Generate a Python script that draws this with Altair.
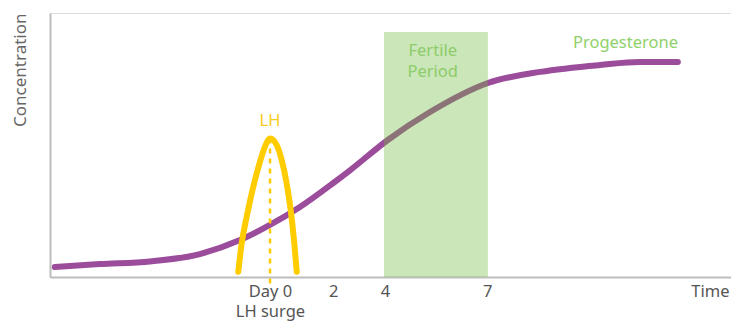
import altair as alt
import pandas as pd

# Progesterone curve (arbitrary time units 0-100, concentration 0-100)
prog_x = [0.7, 7.3, 14.7, 22.0, 27.9, 32.3, 36.7, 41.6, 44.1, 49.6, 55.8, 64.3, 72.0, 80.8, 86.6, 92.2]
prog_y = [3.8, 4.9, 5.9, 8.7, 14.0, 19.7, 26.5, 35.6, 40.5, 51.9, 62.5, 73.5, 77.7, 80.3, 81.4, 81.4]

# LH surge curve
lh_x = [27.65, 28.15, 28.88, 29.85, 30.84, 31.57, 32.31, 33.29, 34.02, 34.75, 35.34, 35.83, 36.23]
lh_y = [2.0, 12.8, 22.8, 34.2, 43.7, 49.4, 52.5, 50.0, 44.3, 35.5, 25.4, 14.0, 2.0]

surge_day = [32.31]
surge_top = [52.5]
surge_bottom = [-3.8]

fertile_start = [49.05]
fertile_end = [64.3]
fertile_top = [92.8]

tick_values = [32.3, 41.6, 49.2, 64.2, 96.9]
tick_labels = [["Day 0", "LH surge"], "2", "4", "7", "Time"]

ann_text = ["Fertile", "Period", "Progesterone", "LH"]
ann_x = [56.2, 56.2, 84.5, 32.3]
ann_y = [85.6, 77.7, 88.75, 59.1]
ann_color = ["#8dcc6a", "#8dcc6a", "#8fd06a", "#f8cc1b"]

PURPLE = "#9b4c9b"
YELLOW = "#ffcc00"
FONT = "Noto Sans"

prog_df = pd.DataFrame({"t": prog_x, "c": prog_y, "i": range(len(prog_x))})
lh_df = pd.DataFrame({"t": lh_x, "c": lh_y, "i": range(len(lh_x))})
rule_df = pd.DataFrame({"t": surge_day, "c": surge_top, "c2": surge_bottom})
rect_df = pd.DataFrame({"t": fertile_start, "t2": fertile_end, "c": [0], "c2": fertile_top})
ann_df = pd.DataFrame({"text": ann_text, "t": ann_x, "c": ann_y, "col": ann_color})

# build label expression
def js(v):
    if isinstance(v, list):
        return "[" + ",".join("'" + s + "'" for s in v) + "]"
    return "'" + v + "'"

expr = js(tick_labels[-1])
for k in range(len(tick_values) - 2, -1, -1):
    mid = (tick_values[k] + tick_values[k + 1]) / 2
    expr = f"datum.value < {mid} ? {js(tick_labels[k])} : ({expr})"

xscale = alt.Scale(domain=[0, 100], nice=False, zero=False)
yscale = alt.Scale(domain=[0, 100], nice=False, zero=False)

xaxis = alt.Axis(
    values=tick_values, labelExpr=expr, title=None, ticks=False, grid=False,
    domainColor="#bdbdbd", domainWidth=2, labelFontSize=16.5, labelColor="#555555",
    labelFont=FONT, labelPadding=6, labelLineHeight=20, labelFlush=False,
    labelOverlap=False, labelBound=False,
)
yaxis = alt.Axis(
    title="Concentration", labels=False, ticks=False, grid=False,
    domainColor="#bdbdbd", domainWidth=2, titleFontSize=17, titleFont=FONT,
    titleColor="#666666", titleFontWeight="normal", titleAnchor="end",
    titlePadding=21,
)

prog = alt.Chart(prog_df).mark_line(
    color=PURPLE, strokeWidth=6, strokeCap="round", interpolate="monotone"
).encode(
    x=alt.X("t:Q", scale=xscale, axis=xaxis),
    y=alt.Y("c:Q", scale=yscale, axis=yaxis),
    order="i:Q",
)

rect = alt.Chart(rect_df).mark_rect(color="#6fba3a", opacity=0.36).encode(
    x="t:Q", x2="t2:Q", y="c:Q", y2="c2:Q"
)

lh = alt.Chart(lh_df).mark_line(
    color=YELLOW, strokeWidth=6, strokeCap="round", interpolate="monotone"
).encode(x="t:Q", y="c:Q", order="i:Q")

rule = alt.Chart(rule_df).mark_rule(
    color=YELLOW, strokeWidth=2.5, strokeDash=[5, 5]
).encode(x="t:Q", y="c:Q", y2="c2:Q")

ann = alt.Chart(ann_df).mark_text(
    fontSize=16.5, font=FONT, align="center", baseline="middle"
).encode(
    x="t:Q", y="c:Q", text="text:N", color=alt.Color("col:N", scale=None)
)

chart = alt.layer(prog, rect, lh, rule, ann).properties(
    width=681, height=264,
    autosize=alt.AutoSizeParams(type="none"),
    padding={"left": 42, "top": 5, "right": 0, "bottom": 44},
).configure_view(stroke=None).configure(font=FONT)

chart.save("out.html", embed_options={"renderer": "svg", "actions": False})
